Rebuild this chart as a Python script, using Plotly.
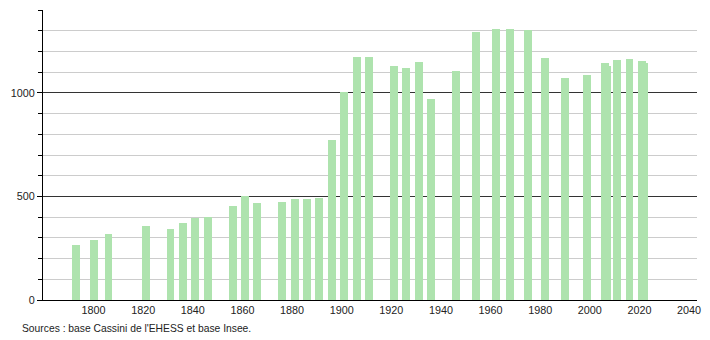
import plotly.graph_objects as go

years = [1793, 1800, 1806, 1821, 1831, 1836, 1841, 1846, 1856, 1861, 1866,
         1876, 1881, 1886, 1891, 1896, 1901, 1906, 1911, 1921, 1926, 1931,
         1936, 1946, 1954, 1962, 1968, 1975, 1982, 1990, 1999, 2006, 2007,
         2011, 2016, 2021, 2022]
population = [266, 290, 319, 357, 343, 372, 396, 401, 454, 502, 467,
              473, 488, 488, 492, 772, 1006, 1174, 1174, 1130, 1121, 1150,
              971, 1106, 1292, 1308, 1308, 1303, 1169, 1072, 1086, 1146, 1130,
              1160, 1164, 1155, 1145]

y_labels = ["0", "500", "1000"]
y_label_vals = [0, 500, 1000]
x_ticks = list(range(1800, 2041, 20))
source = "Sources : base Cassini de l'EHESS et base Insee."

fig = go.Figure()
fig.add_trace(go.Bar(
    x=years, y=population, width=3.2,
    marker=dict(color="#aee3ae", line=dict(width=0)),
    hoverinfo="x+y",
))

fig.update_layout(
    width=710, height=340,
    margin=dict(l=43, r=9, t=10, b=40),
    paper_bgcolor="white", plot_bgcolor="white",
    showlegend=False,
    font=dict(family="Liberation Sans, Arial, sans-serif", size=11, color="#222"),
    bargap=0,
    annotations=[dict(
        text=source, xref="paper", yref="paper",
        x=-43/658 + 20/658, y=-28/290, xanchor="left", yanchor="middle",
        showarrow=False, font=dict(size=10.3, color="#222"),
    )],
)

fig.update_xaxes(
    range=[1779.6, 2043.2],
    showgrid=False, zeroline=False,
    showline=True, linecolor="black", linewidth=1,
    tickvals=x_ticks, ticktext=[str(v) for v in x_ticks],
    ticks="", tickfont=dict(size=10.8, color="#222"),
)

fig.update_yaxes(
    range=[0, 1400],
    tickvals=y_label_vals, ticktext=y_labels,
    showgrid=True, gridcolor="#333", gridwidth=1,
    zeroline=False,
    showline=True, linecolor="black", linewidth=1,
    ticks="outside", ticklen=5, tickcolor="black",
    tickfont=dict(size=10.8, color="#222"),
    minor=dict(dtick=100, tick0=0, showgrid=True, gridcolor="#cccccc",
               gridwidth=1, ticks="outside", ticklen=4, tickcolor="black"),
)

fig.write_html("out.html")
